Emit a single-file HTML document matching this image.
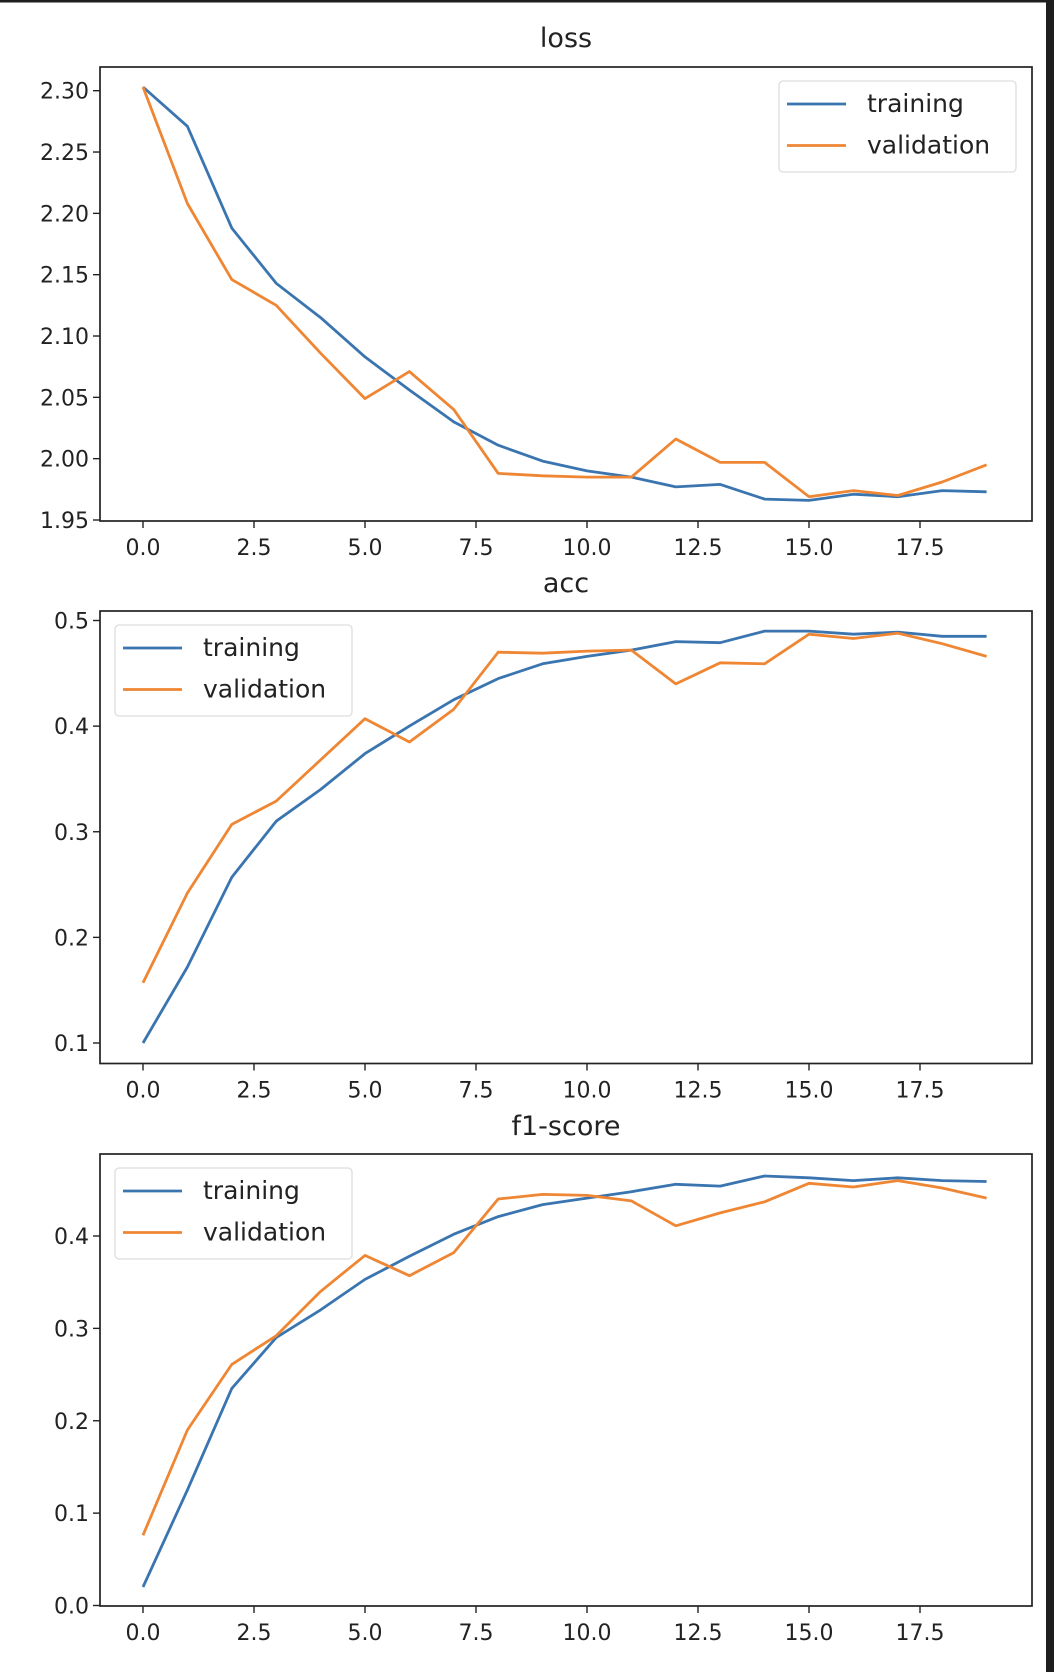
<!DOCTYPE html>
<html><head><meta charset="utf-8"><style>
html,body{margin:0;padding:0;background:#fff;}
svg{display:block;font-family:"DejaVu Sans","Liberation Sans",sans-serif;}
</style></head><body>
<svg id="fig" width="1054" height="1672" viewBox="0 0 1054 1672" xmlns="http://www.w3.org/2000/svg">
<rect x="0" y="0" width="1054" height="1672" fill="#fff"/>
<rect x="0" y="0" width="1054" height="2.5" fill="#1e1e1e"/>
<rect x="1046" y="0" width="8" height="1672" fill="#1e1e1e"/>
</svg>
<script>
const epochs = [0,1,2,3,4,5,6,7,8,9,10,11,12,13,14,15,16,17,18,19];
const xTicks = [0,2.5,5,7.5,10,12.5,15,17.5];
const xTickLabels = ["0.0","2.5","5.0","7.5","10.0","12.5","15.0","17.5"];

const lossTrain = [2.303,2.271,2.188,2.143,2.115,2.083,2.056,2.030,2.011,1.998,1.990,1.985,1.977,1.979,1.967,1.966,1.971,1.969,1.974,1.973];
const lossVal = [2.303,2.208,2.146,2.125,2.086,2.049,2.071,2.040,1.988,1.986,1.985,1.985,2.016,1.997,1.997,1.969,1.974,1.970,1.981,1.995];
const lossTicks = [1.95,2.00,2.05,2.10,2.15,2.20,2.25,2.30];
const lossTickLabels = ["1.95","2.00","2.05","2.10","2.15","2.20","2.25","2.30"];

const accTrain = [0.100,0.172,0.257,0.310,0.340,0.374,0.400,0.425,0.445,0.459,0.466,0.472,0.480,0.479,0.490,0.490,0.487,0.489,0.485,0.485];
const accVal = [0.157,0.242,0.307,0.329,0.368,0.407,0.385,0.416,0.470,0.469,0.471,0.472,0.440,0.460,0.459,0.487,0.483,0.488,0.478,0.466];
const accTicks = [0.1,0.2,0.3,0.4,0.5];
const accTickLabels = ["0.1","0.2","0.3","0.4","0.5"];

const f1Train = [0.020,0.125,0.235,0.290,0.320,0.353,0.378,0.402,0.421,0.434,0.441,0.448,0.456,0.454,0.465,0.463,0.460,0.463,0.460,0.459];
const f1Val = [0.076,0.190,0.261,0.292,0.340,0.379,0.357,0.382,0.440,0.445,0.444,0.438,0.411,0.425,0.437,0.457,0.453,0.460,0.452,0.441];
const f1Ticks = [0.0,0.1,0.2,0.3,0.4];
const f1TickLabels = ["0.0","0.1","0.2","0.3","0.4"];

const NS = "http://www.w3.org/2000/svg";
const svg = document.getElementById("fig");
function mk(tag, attrs, parent){const e=document.createElementNS(NS,tag);for(const k in attrs)e.setAttribute(k,attrs[k]);(parent||svg).appendChild(e);return e;}

const L=100, R=1032;
const xScale = v => 143 + v*44.4;

function panel(cfg){
  const g = mk("g",{});
  
  
  const yScale = v => cfg.p0 + (v - cfg.v0)*(cfg.p1 - cfg.p0)/(cfg.v1 - cfg.v0);
  const t = mk("text",{x:(L+R)/2,y:cfg.titleY,"text-anchor":"middle","font-size":"27","fill":"#222"},g);
  t.textContent = cfg.title;
  
  
  xTicks.forEach((v,i)=>{
    const x=xScale(v);
    mk("line",{x1:x,x2:x,y1:cfg.bottom,y2:cfg.bottom+7,stroke:"#222","stroke-width":"1.4"},g);
    const tl=mk("text",{x:x,y:cfg.bottom+34,"text-anchor":"middle","font-size":"22","fill":"#222"},g);
    tl.textContent=xTickLabels[i];
    
    
  });
  cfg.ticks.forEach((v,i)=>{
    const y=yScale(v);
    mk("line",{x1:L-7,x2:L,y1:y,y2:y,stroke:"#222","stroke-width":"1.4"},g);
    const tl=mk("text",{x:L-11,y:y+8,"text-anchor":"end","font-size":"22","fill":"#222"},g);
    tl.textContent=cfg.labels[i];
    
    
  });
  const series=[[cfg.train,"#3a75b0","training"],[cfg.val,"#ef8633","validation"]];
  series.forEach(s=>{
    const pts=epochs.map((e,i)=>xScale(e).toFixed(1)+","+yScale(s[0][i]).toFixed(1)).join(" ");
    const pl=mk("polyline",{points:pts,fill:"none",stroke:s[1],"stroke-width":"2.8","stroke-linejoin":"round"},g);
    
    
  });
  const fr=mk("rect",{x:L,y:cfg.top,width:R-L,height:cfg.bottom-cfg.top,fill:"none",stroke:"#222","stroke-width":"1.7"},g);
  
  
  const lg=mk("g",{},g);
  
  
  mk("rect",{x:cfg.lx,y:cfg.ly,width:237,height:91,rx:4,fill:"#fff","fill-opacity":"0.85",stroke:"#ddd","stroke-width":"1.3"},lg);
  series.forEach((s,i)=>{
    const y=cfg.ly+23+i*41.5;
    mk("line",{x1:cfg.lx+8,x2:cfg.lx+67,y1:y,y2:y,stroke:s[1],"stroke-width":"2.8"},lg);
    const tx=mk("text",{x:cfg.lx+88,y:y+8,"font-size":"25","fill":"#222"},lg);
    tx.textContent=s[2];
    
    
  });
}

panel({name:"loss",title:"loss",titleY:47,top:67,bottom:521,v0:2.30,p0:90.7,v1:1.95,p1:520,ticks:lossTicks,labels:lossTickLabels,train:lossTrain,val:lossVal,lx:779,ly:81});
panel({name:"acc",title:"acc",titleY:592,top:611,bottom:1063.5,v0:0.5,p0:620.5,v1:0.1,p1:1043,ticks:accTicks,labels:accTickLabels,train:accTrain,val:accVal,lx:115,ly:625});
panel({name:"f1",title:"f1-score",titleY:1135,top:1154,bottom:1606,v0:0.4,p0:1236,v1:0.0,p1:1605.5,ticks:f1Ticks,labels:f1TickLabels,train:f1Train,val:f1Val,lx:115,ly:1168});
</script>
</body></html>
